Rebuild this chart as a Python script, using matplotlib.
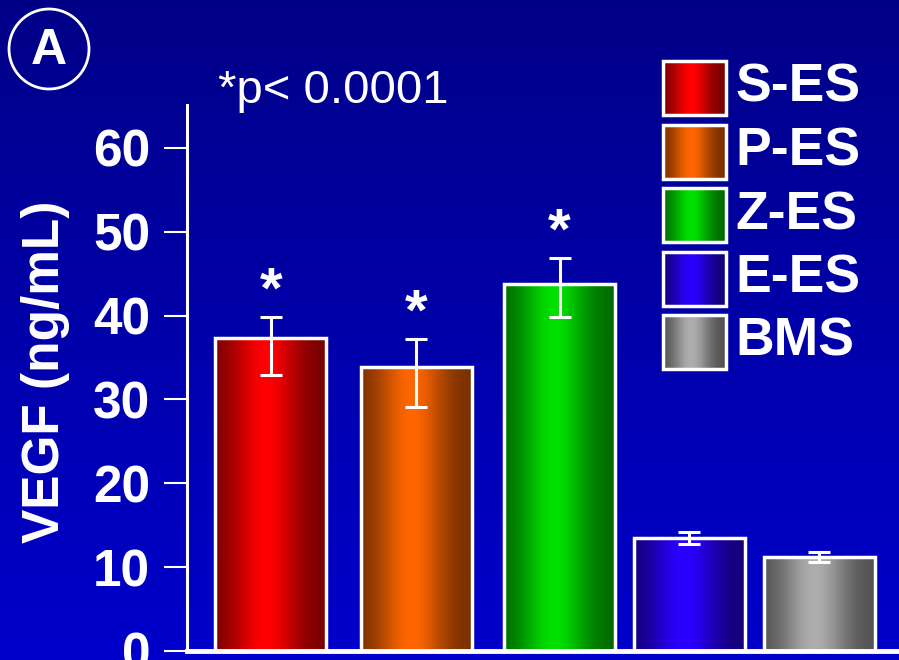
import numpy as np
import matplotlib
matplotlib.use('Agg')
import matplotlib.pyplot as plt
from matplotlib.patches import Circle, Rectangle

# data
groups = ['S-ES', 'P-ES', 'Z-ES', 'E-ES', 'BMS']
vegf = [37.3, 33.9, 43.8, 13.5, 11.2]
err_low = [4.4, 4.8, 4.0, 0.7, 0.6]
err_high = [2.5, 3.3, 3.1, 0.7, 0.6]
significant = [True, True, True, False, False]
y_ticks = [0, 10, 20, 30, 40, 50, 60]
y_label = 'VEGF (ng/mL)'
note = '*p< 0.0001'
panel = 'A'

colors = [(1.0, 0.0, 0.0), (1.0, 0.40, 0.0), (0.0, 0.88, 0.0),
          (0.16, 0.0, 1.0), (0.68, 0.68, 0.68)]

plt.rcParams['font.family'] = ['Liberation Sans', 'DejaVu Sans']

W, H = 899, 660
fig = plt.figure(figsize=(W / 100, H / 100), dpi=100)

# blue background, darker at the top
bg = fig.add_axes([0, 0, 1, 1], zorder=0)
g = np.linspace(0, 1, H)[:, None, None]
top_c = np.array([0.0, 0.0, 0.53])
bot_c = np.array([0.0, 0.0, 0.80])
bg.imshow(top_c + (bot_c - top_c) * g, extent=[0, W, H, 0], aspect='auto')
bg.set_xlim(0, W)
bg.set_ylim(H, 0)
bg.axis('off')

# cylinder-like shading across a bar
t = np.linspace(0, 1, 200)
shade = 0.45 + 0.55 * np.exp(-((t - 0.45) / 0.3) ** 2)


def shaded(c):
    return np.array(c)[None, None, :] * shade[None, :, None]


ax = fig.add_axes([187 / W, 9 / H, 1 - 187 / W, 546 / H], zorder=1)
ax.patch.set_alpha(0)
# slot positions (bars in the original are not evenly spaced)
x = np.array([0, 1.06, 2.105, 3.05, 4.0])
w = 0.81

for xi, v, c in zip(x, vegf, colors):
    ax.imshow(shaded(c), extent=[xi - w / 2, xi + w / 2, 0, v], aspect='auto',
              zorder=2, interpolation='bilinear')
ax.bar(x, vegf, w, facecolor='none', edgecolor='white', linewidth=2.5, zorder=3)
ax.errorbar(x, vegf, yerr=[err_low, err_high], fmt='none', ecolor='white',
            elinewidth=2.2, capsize=8, capthick=2.2, zorder=4)

for xi, v, eh, s in zip(x, vegf, err_high, significant):
    if s:
        ax.text(xi, v + eh + 1.1, '*', ha='center', va='baseline', color='white',
                fontsize=42, fontweight='bold', zorder=5)

ax.set_xlim(-0.612, 4.58)
ax.set_ylim(0, 65.1)
ax.set_xticks([])
ax.set_yticks(y_ticks)
ax.tick_params(axis='y', colors='white', labelcolor='white', length=16.5,
               width=1.5, pad=10, labelsize=37)
for lab in ax.get_yticklabels():
    lab.set_fontweight('bold')
for side in ['top', 'right']:
    ax.spines[side].set_visible(False)
ax.spines['left'].set_color('white')
ax.spines['left'].set_linewidth(2.2)
ax.spines['bottom'].set_color('white')
ax.spines['bottom'].set_linewidth(3.5)

fig.text(46 / W, 1 - 372 / H, y_label, rotation=90, ha='center', va='center',
         color='white', fontsize=37, fontweight='bold')

# overlay in pixel coordinates: legend, panel letter, note
ov = fig.add_axes([0, 0, 1, 1], zorder=5)

for i, (lab, c) in enumerate(zip(groups, colors)):
    top = 61 + i * 63.5
    ov.imshow(shaded(c), extent=[663, 726, top + 54, top], aspect='auto',
              interpolation='bilinear', zorder=1)
    ov.add_patch(Rectangle((663, top), 63, 54, fill=False, ec='white', lw=2.5, zorder=2))
    ov.text(735, top + 27, lab, color='white', fontsize=38.5, fontweight='bold',
            va='center', ha='left')
ov.set_xlim(0, W)
ov.set_ylim(H, 0)
ov.axis('off')

ov.add_patch(Circle((49, 49), 40, fill=False, ec='white', lw=2))
ov.text(49, 51, panel, ha='center', va='center', color='white', fontsize=36,
        fontweight='bold')
ov.text(218, 103, note, va='baseline', ha='left', color='white', fontsize=34)

fig.savefig('out.png', dpi=100)
